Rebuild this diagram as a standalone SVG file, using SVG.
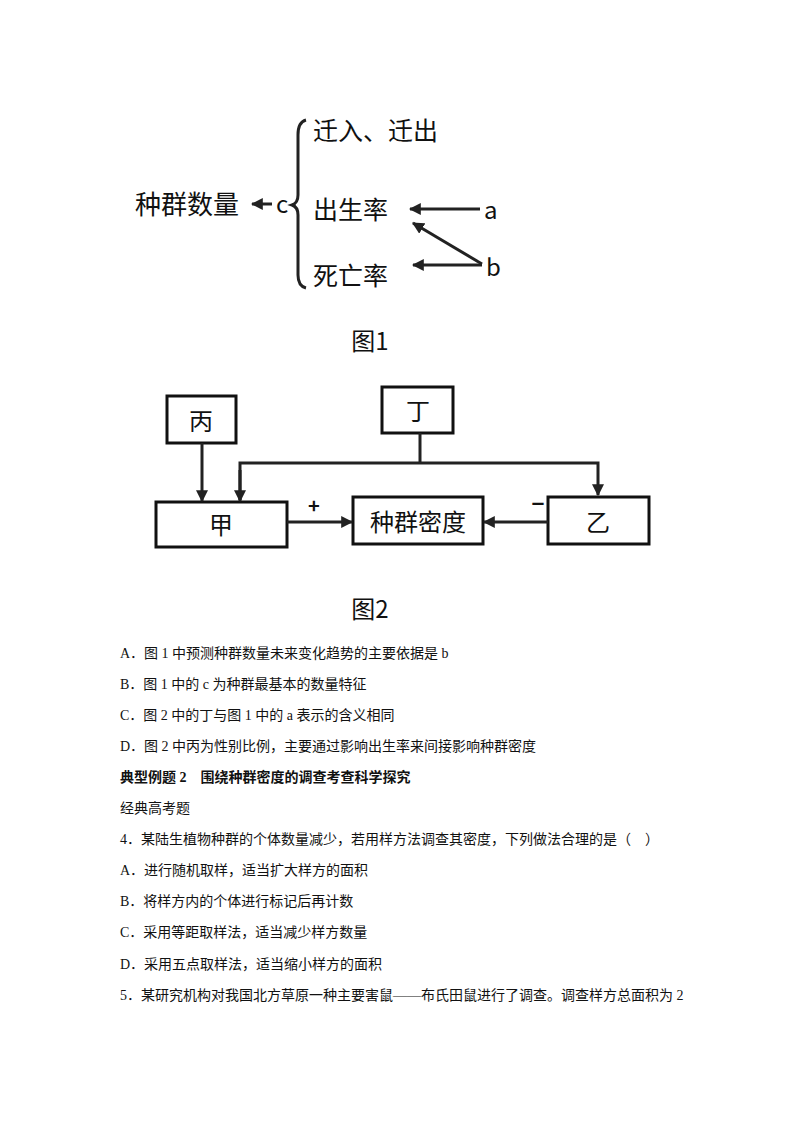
<svg xmlns="http://www.w3.org/2000/svg" width="794" height="1123" viewBox="0 0 794 1123">
<style>
.d{font-family:"Noto Sans CJK SC","DejaVu Sans",sans-serif;fill:#111}
.t{font-family:"Liberation Serif","Noto Sans CJK SC",serif;font-size:14px;fill:#111}
.b{stroke:#111;stroke-width:3;fill:#fff}
.l{stroke:#222;stroke-width:3;fill:none}
</style>
<defs><marker id="ah" viewBox="0 0 10 10" refX="9" refY="5" markerWidth="4" markerHeight="4" orient="auto"><path d="M0,0L10,5L0,10z" fill="#222"/></marker></defs>
<rect width="794" height="1123" fill="#fff"/>
<g id="fig1">
<text class="d" x="135" y="214" font-size="26">种群数量</text>
<text class="d" x="276" y="213" font-size="24">c</text>
<path class="l" d="M306,120 Q298,122 298,135 L298,195 Q298,203 292,205 Q298,207 298,215 L298,275 Q298,286 306,288"/>
<text class="d" x="313" y="140" font-size="25">迁入、迁出</text>
<text class="d" x="313" y="219" font-size="25">出生率</text>
<text class="d" x="313" y="285" font-size="25">死亡率</text>
<text class="d" x="484" y="219" font-size="24">a</text>
<text class="d" x="486" y="276" font-size="24">b</text>
</g>
<g id="connectors1">
<line class="l" x1="272" y1="204" x2="252" y2="204" marker-end="url(#ah)"/>
<line class="l" x1="480" y1="209" x2="410" y2="209" marker-end="url(#ah)"/>
<line class="l" x1="482" y1="264" x2="413" y2="223" marker-end="url(#ah)"/>
<line class="l" x1="482" y1="265" x2="413" y2="265" marker-end="url(#ah)"/>
</g>
<text class="d" x="370" y="350" font-size="24" text-anchor="middle">图1</text>
<g id="bing"><rect class="b" x="167" y="396" width="69" height="47"/><text class="d" x="201" y="430" font-size="24" text-anchor="middle">丙</text></g>
<g id="ding"><rect class="b" x="382" y="387" width="71" height="46"/><text class="d" x="418" y="420" font-size="24" text-anchor="middle">丁</text></g>
<g id="jia"><rect class="b" x="156" y="502" width="131" height="45"/><text class="d" x="221" y="534" font-size="24" text-anchor="middle">甲</text></g>
<g id="midu"><rect class="b" x="353" y="497" width="130" height="47"/><text class="d" x="418" y="531" font-size="24" text-anchor="middle">种群密度</text></g>
<g id="yi"><rect class="b" x="548" y="497" width="101" height="47"/><text class="d" x="598" y="531" font-size="24" text-anchor="middle">乙</text></g>
<g id="connectors2">
<line class="l" x1="202" y1="443" x2="202" y2="501" marker-end="url(#ah)"/>
<polyline class="l" points="420,433 420,463"/>
<polyline class="l" points="240,500 240,463 598,463 598,495" marker-end="url(#ah)"/>
<line class="l" x1="240" y1="470" x2="240" y2="501" marker-end="url(#ah)"/>
<line class="l" x1="287" y1="522" x2="352" y2="522" marker-end="url(#ah)"/>
<line class="l" x1="548" y1="522" x2="484" y2="522" marker-end="url(#ah)"/>
<text class="d" x="314" y="513" font-size="20" font-weight="bold" text-anchor="middle">+</text>
<text class="d" x="538" y="512" font-size="22" font-weight="bold" text-anchor="middle">−</text>
</g>
<text class="d" x="370" y="618" font-size="24" text-anchor="middle">图2</text>
<g id="text">
<text class="t" x="120" y="658">A．图 1 中预测种群数量未来变化趋势的主要依据是 b</text>
<text class="t" x="120" y="689">B．图 1 中的 c 为种群最基本的数量特征</text>
<text class="t" x="120" y="720">C．图 2 中的丁与图 1 中的 a 表示的含义相同</text>
<text class="t" x="120" y="751">D．图 2 中丙为性别比例，主要通过影响出生率来间接影响种群密度</text>
<text class="t" x="120" y="782" font-weight="bold">典型例题 2　围绕种群密度的调查考查科学探究</text>
<text class="t" x="120" y="813">经典高考题</text>
<text class="t" x="120" y="844">4．某陆生植物种群的个体数量减少，若用样方法调查其密度，下列做法合理的是（　）</text>
<text class="t" x="120" y="875">A．进行随机取样，适当扩大样方的面积</text>
<text class="t" x="120" y="906">B．将样方内的个体进行标记后再计数</text>
<text class="t" x="120" y="937">C．采用等距取样法，适当减少样方数量</text>
<text class="t" x="120" y="969">D．采用五点取样法，适当缩小样方的面积</text>
<text class="t" x="120" y="1000">5．某研究机构对我国北方草原一种主要害鼠——布氏田鼠进行了调查。调查样方总面积为 2</text>
</g>
</svg>
